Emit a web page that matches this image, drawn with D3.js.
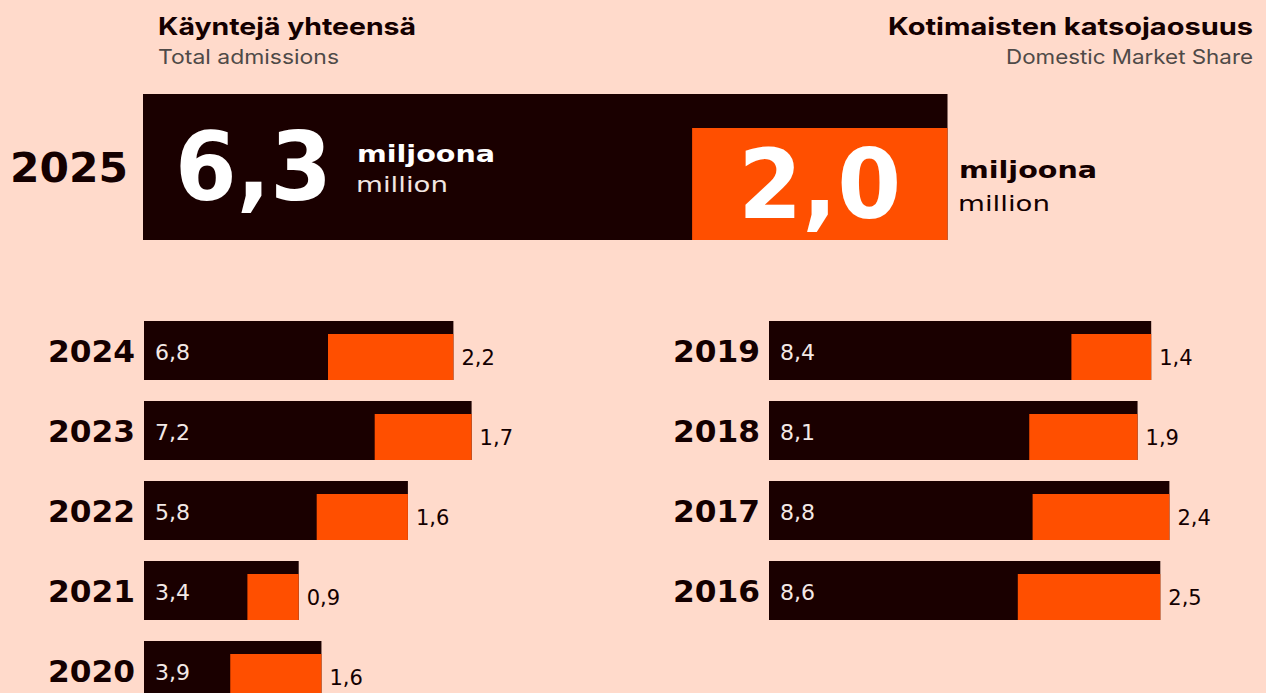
<!DOCTYPE html>
<html>
<head>
<meta charset="utf-8">
<script src="https://cdn.jsdelivr.net/npm/d3@7"></script>
<style>
  html, body { margin: 0; padding: 0; background: #ffdacb; }
  svg { display: block; }
</style>
</head>
<body>
<svg id="chart" width="1266" height="693"></svg>
<script>
// ---- data ----
const years = ["2024", "2023", "2022", "2021", "2020", "2019", "2018", "2017", "2016"];
const totalAdmissions = [6.8, 7.2, 5.8, 3.4, 3.9, 8.4, 8.1, 8.8, 8.6];
const domesticAdmissions = [2.2, 1.7, 1.6, 0.9, 1.6, 1.4, 1.9, 2.4, 2.5];
const currentYear = ["2025"];
const currentTotal = [6.3];
const currentDomestic = [2.0];
const headerLabels = ["Käyntejä yhteensä", "Total admissions", "Kotimaisten katsojaosuus", "Domestic Market Share"];
const unitLabels = ["miljoona", "million"];

// ---- style ----
const BG = "#ffdacb", DARK = "#1a0000", ORANGE = "#ff4f00", INK = "#140000", GREY = "#4f4a48";
const NUM_FONT = "'DejaVu Sans', sans-serif";
const HEAD_FONT = "Inter, 'Noto Sans', sans-serif";

const fmt = d3.formatLocale({decimal: ",", thousands: " ", grouping: [3], currency: ["", "€"]}).format(".1f");

const svg = d3.select("#chart");
svg.append("rect").attr("width", 1266).attr("height", 693).attr("fill", BG);

// ---- headers ----
svg.append("text").attr("x", 158).attr("y", 35).attr("font-family", HEAD_FONT).attr("font-weight", 700)
  .attr("font-size", 24).attr("fill", INK).attr("textLength", 258).attr("lengthAdjust", "spacingAndGlyphs").text(headerLabels[0]);
svg.append("text").attr("x", 158).attr("y", 64).attr("font-family", HEAD_FONT).attr("font-weight", 400)
  .attr("font-size", 20).attr("fill", GREY).attr("textLength", 181).attr("lengthAdjust", "spacingAndGlyphs").text(headerLabels[1]);
svg.append("text").attr("x", 1253).attr("y", 35).attr("text-anchor", "end").attr("font-family", HEAD_FONT).attr("font-weight", 700)
  .attr("font-size", 24).attr("fill", INK).attr("textLength", 365).attr("lengthAdjust", "spacingAndGlyphs").text(headerLabels[2]);
svg.append("text").attr("x", 1253).attr("y", 64).attr("text-anchor", "end").attr("font-family", HEAD_FONT).attr("font-weight", 400)
  .attr("font-size", 20).attr("fill", GREY).attr("textLength", 247).attr("lengthAdjust", "spacingAndGlyphs").text(headerLabels[3]);

// ---- big 2025 block ----
const xBig = d3.scaleLinear().domain([0, 10]).range([0, 1277]);
const bigX0 = 143, bigTop = 94, bigH = 146, bigOrangeTop = 128;
const big = svg.append("g");
const bigTotalW = xBig(currentTotal[0]);
const bigDomW = xBig(currentDomestic[0]);
big.append("rect").attr("x", bigX0).attr("y", bigTop).attr("width", bigTotalW).attr("height", bigH).attr("fill", DARK);
big.append("rect").attr("x", bigX0 + bigTotalW - bigDomW).attr("y", bigOrangeTop)
  .attr("width", bigDomW).attr("height", bigTop + bigH - bigOrangeTop).attr("fill", ORANGE);

big.append("text").attr("x", 128).attr("y", 182).attr("text-anchor", "end").attr("font-family", NUM_FONT)
  .attr("font-weight", 700).attr("font-size", 40).attr("fill", INK)
  .attr("textLength", 118).attr("lengthAdjust", "spacingAndGlyphs").text(currentYear[0]);

big.append("text").attr("x", 175).attr("y", 200).attr("font-family", NUM_FONT).attr("font-weight", 700)
  .attr("font-size", 94).attr("fill", "#ffffff").attr("textLength", 157).attr("lengthAdjust", "spacingAndGlyphs")
  .text(fmt(currentTotal[0]));
big.append("text").attr("x", 357).attr("y", 162).attr("font-family", NUM_FONT).attr("font-weight", 700)
  .attr("font-size", 23).attr("fill", "#ffffff").attr("textLength", 138).attr("lengthAdjust", "spacingAndGlyphs").text(unitLabels[0]);
big.append("text").attr("x", 356).attr("y", 192).attr("font-family", NUM_FONT).attr("font-weight", 400)
  .attr("font-size", 22).attr("fill", "#f1e6e2").attr("textLength", 92).attr("lengthAdjust", "spacingAndGlyphs").text(unitLabels[1]);

const domCenter = bigX0 + bigTotalW - bigDomW / 2;
big.append("text").attr("x", domCenter).attr("y", 218).attr("text-anchor", "middle").attr("font-family", NUM_FONT).attr("font-weight", 700)
  .attr("font-size", 96).attr("fill", "#ffffff").attr("textLength", 163).attr("lengthAdjust", "spacingAndGlyphs")
  .text(fmt(currentDomestic[0]));
big.append("text").attr("x", 959).attr("y", 178).attr("font-family", NUM_FONT).attr("font-weight", 700)
  .attr("font-size", 23).attr("fill", INK).attr("textLength", 138).attr("lengthAdjust", "spacingAndGlyphs").text(unitLabels[0]);
big.append("text").attr("x", 958).attr("y", 211).attr("font-family", NUM_FONT).attr("font-weight", 400)
  .attr("font-size", 22).attr("fill", INK).attr("textLength", 92).attr("lengthAdjust", "spacingAndGlyphs").text(unitLabels[1]);

// ---- small bars ----
const xTotal = d3.scaleLinear().domain([0, 10]).range([0, 455]);
const xDom = d3.scaleLinear().domain([0, 10]).range([0, 570]);
const colX = [144, 769];
const rowTop0 = 321, rowStep = 80, barH = 59, orangeOff = 13;

const rows = years.map((y, i) => ({
  year: y, total: totalAdmissions[i], dom: domesticAdmissions[i],
  col: i < 5 ? 0 : 1, row: i < 5 ? i : i - 5
}));

const g = svg.append("g").selectAll("g.row").data(rows).join("g").attr("class", "row")
  .attr("transform", d => `translate(${colX[d.col]},${rowTop0 + d.row * rowStep})`);

g.append("rect").attr("x", 0).attr("y", 0).attr("width", d => xTotal(d.total)).attr("height", barH).attr("fill", DARK);
g.append("rect").attr("x", d => xTotal(d.total) - xDom(d.dom)).attr("y", orangeOff)
  .attr("width", d => xDom(d.dom)).attr("height", barH - orangeOff).attr("fill", ORANGE);

g.append("text").attr("x", -9).attr("y", 41).attr("text-anchor", "end").attr("font-family", NUM_FONT)
  .attr("font-weight", 700).attr("font-size", 30).attr("fill", INK)
  .attr("textLength", 87).attr("lengthAdjust", "spacingAndGlyphs").text(d => d.year);

g.append("text").attr("x", 11).attr("y", 39).attr("font-family", NUM_FONT).attr("font-weight", 400)
  .attr("font-size", 22).attr("fill", "#f3e9e6").text(d => fmt(d.total));

g.append("text").attr("x", d => xTotal(d.total) + 8).attr("y", 44).attr("font-family", NUM_FONT).attr("font-weight", 400)
  .attr("font-size", 21).attr("fill", INK).text(d => fmt(d.dom));
</script>
</body>
</html>
